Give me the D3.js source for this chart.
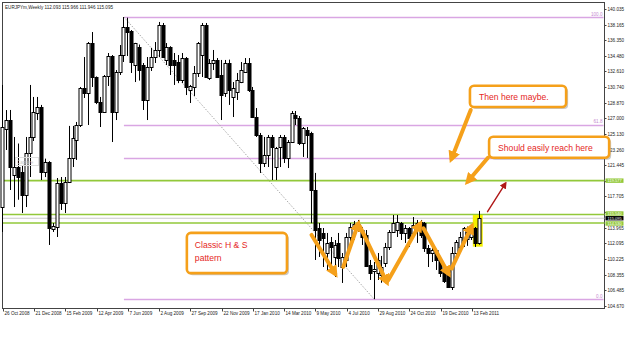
<!DOCTYPE html>
<html>
<head>
<meta charset="utf-8">
<script src="https://cdn.jsdelivr.net/npm/d3@7"></script>
<style>
	body { margin: 0; background: #fff; }
	svg { display: block; }
</style>
</head>
<body>
<svg id="chart" width="625" height="346"></svg>
<script>
// weekly EURJPY candles, first bar = week of 26 Oct 2008
const symbol = 'EURJPYm,Weekly';
const firstWeek = new Date(Date.UTC(2008, 9, 26));

const open = [116.5, 125.73, 126.8, 120.25, 121.2, 120.61, 117.87, 122.87, 124.78, 127.64,
	128.35, 120.61, 121.8, 113.81, 114.05, 119.29, 116.91, 119.41, 122.28, 124.42,
	126.21, 130.62, 130.02, 135.98, 131.93, 128.95, 127.76, 132.05, 134.43, 127.76,
	132.53, 134.55, 137.89, 137.41, 133.36, 135.5, 133.36, 129.19, 133.12, 134.31,
	135.15, 138.13, 133.96, 135.51, 133.96, 133.72, 131.57, 134.19, 130.38, 130.74,
	132.41, 134.5, 138.13, 131.81, 133.6, 133.96, 132.17, 130.02, 133.6, 129.55,
	130.14, 131.33, 132.53, 133.6, 130.38, 127.16, 125.02, 121.68, 122.63, 124.78,
	121.2, 123.59, 124.78, 122.28, 124.18, 127.4, 127.04, 124.06, 125.61, 125.26,
	118.46, 113.93, 113.34, 110.95, 112.27, 110.48, 112.15, 109.28, 110.12, 112.86,
	114.05, 114.41, 113.69, 113.1, 109.52, 108.81, 108.57, 108.3, 109.76, 111.67,
	113.46, 113.69, 114.53, 113.34, 113.93, 113.34, 113.93, 114.65, 114.53, 111.55,
	110.95, 111.31, 110.12, 108.69, 109.16, 106.9, 110.95, 111.67, 112.5, 112.6,
	112.86, 113.93, 112.093];
const high = [130.98, 127.99, 128.0, 124.78, 124.0, 121.44, 124.78, 130.98, 129.55, 129.55,
	128.6, 122.2, 121.9, 114.53, 119.89, 120.01, 120.01, 126.1, 126.1, 126.57,
	130.74, 134.31, 136.1, 137.29, 132.0, 129.55, 132.17, 134.79, 134.55, 132.76,
	135.74, 139.08, 139.0, 137.53, 136.0, 135.8, 133.6, 134.31, 135.4, 136.1,
	138.49, 138.37, 135.98, 135.6, 134.79, 134.55, 134.79, 134.31, 130.98, 133.24,
	136.1, 138.37, 138.37, 134.07, 135.15, 134.19, 133.96, 133.96, 134.0, 131.33,
	132.41, 133.72, 134.19, 134.19, 130.74, 128.23, 125.26, 124.78, 125.02, 125.02,
	123.59, 125.02, 125.02, 124.42, 127.88, 127.88, 127.28, 125.97, 125.97, 125.4,
	120.5, 114.53, 113.93, 113.34, 112.86, 112.5, 113.34, 110.95, 113.34, 114.53,
	114.77, 114.89, 114.05, 113.69, 110.12, 109.88, 110.95, 110.6, 112.15, 113.69,
	115.48, 115.48, 114.65, 114.29, 114.05, 115.24, 114.89, 114.89, 114.65, 111.91,
	111.67, 111.43, 110.24, 108.93, 109.28, 111.67, 112.5, 113.46, 114.05, 114.1,
	114.05, 114.05, 115.966];
const low = [113.46, 123.23, 118.46, 116.43, 117.3, 115.72, 116.43, 120.01, 124.3, 126.8,
	119.65, 120.0, 111.91, 113.46, 112.86, 116.08, 115.72, 119.29, 121.2, 122.04,
	125.97, 129.43, 126.21, 130.74, 128.7, 125.97, 127.64, 130.86, 124.18, 126.8,
	132.17, 133.72, 134.43, 132.41, 131.33, 131.5, 128.0, 126.8, 132.65, 133.6,
	134.31, 134.19, 133.36, 132.17, 130.98, 131.2, 131.2, 129.78, 128.83, 129.67,
	131.93, 131.93, 131.81, 131.57, 132.76, 131.81, 126.8, 129.55, 128.6, 127.16,
	129.19, 131.2, 132.41, 130.14, 127.04, 124.78, 120.49, 121.2, 121.2, 119.65,
	119.65, 121.2, 121.68, 121.08, 124.06, 126.21, 123.82, 122.4, 122.28, 114.5,
	110.12, 110.48, 109.28, 108.93, 108.57, 108.09, 109.28, 107.38, 109.28, 111.31,
	112.5, 113.46, 111.91, 109.28, 107.74, 105.45, 107.74, 107.4, 109.28, 111.31,
	113.34, 112.86, 112.5, 112.15, 111.67, 112.86, 112.15, 112.74, 111.08, 109.28,
	109.88, 108.93, 108.09, 107.38, 106.78, 106.54, 110.48, 110.95, 111.67, 111.8,
	112.5, 111.67, 111.946];
const close = [126.0, 126.8, 121.2, 121.2, 120.0, 117.87, 122.87, 124.78, 127.76, 128.35,
	120.61, 121.8, 113.93, 114.17, 119.29, 116.91, 119.41, 122.28, 124.66, 126.21,
	130.62, 130.02, 135.98, 131.93, 128.95, 127.76, 132.05, 134.43, 127.76, 132.53,
	134.55, 137.89, 137.29, 133.72, 135.98, 132.8, 129.19, 133.12, 134.31, 135.15,
	138.13, 134.31, 135.51, 133.36, 133.36, 131.57, 134.19, 130.74, 130.86, 132.41,
	135.98, 138.13, 131.93, 133.6, 133.96, 131.93, 129.78, 133.6, 130.38, 130.62,
	131.57, 132.76, 133.6, 130.38, 127.16, 125.02, 121.68, 122.63, 124.78, 123.59,
	123.47, 124.78, 122.28, 124.18, 127.64, 127.04, 124.06, 125.85, 125.02, 118.46,
	113.69, 112.5, 112.74, 112.15, 111.67, 111.91, 110.36, 110.48, 112.86, 114.05,
	114.41, 113.93, 112.86, 109.4, 108.57, 109.0, 110.12, 109.3, 111.67, 113.46,
	114.53, 114.65, 113.34, 113.93, 112.74, 114.29, 114.53, 113.1, 111.55, 110.95,
	111.31, 110.12, 108.57, 107.62, 106.9, 110.95, 112.27, 112.86, 113.93, 113.4,
	113.93, 112.09, 115.095];

// price scale labels, as printed on the right axis
const priceTicks = ['140.035', '138.165', '136.350', '134.480', '132.610', '130.740', '128.870', '127.000',
	'125.130', '123.260', '121.445', '119.575', '117.705', '115.835', '113.965', '112.095', '110.225',
	'108.355', '106.485', '104.670'];
const dateTicks = ['26 Oct 2008', '21 Dec 2008', '15 Feb 2009', '12 Apr 2009', '7 Jun 2009', '2 Aug 2009',
	'27 Sep 2009', '22 Nov 2009', '17 Jan 2010', '14 Mar 2010', '9 May 2010', '4 Jul 2010', '29 Aug 2010',
	'24 Oct 2010', '19 Dec 2010', '13 Feb 2011'];

// horizontal lines drawn on the chart
const greenLevels = [119.575, 115.54, 114.53];
const greenLabels = ['119.577', '115.540', '114.530'];
const fibRatios = [0, 0.5, 0.618, 1];
const fibLabels = ['0.0', '', '61.8', '100.0'];
const fibHighBar = 31;
const fibLowBar = 95;

// hand drawn annotations, in (bar index, price)
const zigzag = [
	[[79.0, 113.1], [85.0, 108.5]],
	[[87.1, 109.3], [90.9, 114.4]],
	[[91.4, 114.1], [98.2, 107.5]],
	[[98.6, 107.7], [106.7, 114.4]],
	[[107.6, 113.9], [114.0, 108.5]],
	[[114.8, 109.1], [119.9, 114.1]]
];
const notes = [
	{ lines: ['Classic H & S', 'pattern'], box: [47.1, 113.35, 72.7, 108.55], arrow: null },
	{ lines: ['Then here maybe.'], box: [119.5, 130.88, 144.1, 128.35], arrow: [[119.7, 128.0], [114.8, 122.2]] },
	{ lines: ['Should easily reach here'], box: [124.4, 124.8, 155.1, 122.3], arrow: [[124.1, 122.3], [119.0, 119.5]] }
];
const redArrow = [[124.0, 115.87], [128.5, 119.18]];

const [plotLeft, plotTop, plotRight, plotBottom] = [2.5, 2.5, 604.5, 308.5];
const font = 'Liberation Sans, Arial, sans-serif';
const orange = '#f5a01a';
const green = '#92c83a';

const svg = d3.select('#chart');
const x = d3.scaleLinear([0, 120], [2.7, 471.9]);
const y = d3.scaleLinear([104.670, 140.035], [305.7, 9]);
const weekOf = d => d3.utcWeek.count(firstWeek, d);
const bars = d3.range(open.length);
const last = open.length - 1;
const bid = close[last];
// wick sits on the middle of a pixel column
const px = i => Math.floor(x(i)) + 0.5;

const defs = svg.append('defs');
const marker = (id, color, size) =>
	defs
		.append('marker')
		.attr('id', id)
		.attr('viewBox', '0 0 10 10')
		.attr('refX', 6)
		.attr('refY', 5)
		.attr('markerWidth', size)
		.attr('markerHeight', size)
		.attr('markerUnits', 'userSpaceOnUse')
		.attr('orient', 'auto')
		.append('path')
		.attr('d', 'M0,0 L10,5 L0,10 z')
		.attr('fill', color);
marker('headOrange', orange, 12);
marker('headRed', '#b01818', 7);

// frame
svg.append('rect')
	.attr('x', plotLeft).attr('y', plotTop)
	.attr('width', plotRight - plotLeft).attr('height', plotBottom - plotTop)
	.attr('fill', 'none').attr('stroke', '#444');

// fibonacci levels from the high bar to the low bar
const fibHigh = high[fibHighBar];
const fibLow = low[fibLowBar];
const fibG = svg.append('g');
fibRatios.forEach((r, k) => {
	const p = fibLow + r * (fibHigh - fibLow);
	fibG.append('line')
		.attr('x1', x(fibHighBar)).attr('x2', plotRight - 1)
		.attr('y1', Math.round(y(p)) + 0.5).attr('y2', Math.round(y(p)) + 0.5)
		.attr('stroke', '#d9a6e3').attr('stroke-width', 1.5);
	fibG.append('text')
		.attr('x', plotRight - 2).attr('y', y(p) - 1.5)
		.attr('text-anchor', 'end')
		.attr('font-family', font).attr('font-size', 4.6)
		.attr('fill', '#c58ad0')
		.text(fibLabels[k]);
});
svg.append('line')
	.attr('x1', x(fibHighBar)).attr('y1', y(fibHigh))
	.attr('x2', x(fibLowBar)).attr('y2', y(fibLow))
	.attr('stroke', '#aaa').attr('stroke-dasharray', '1.5,1.5');

// green support / resistance lines and the bid line
greenLevels.forEach(p => {
	svg.append('line')
		.attr('x1', plotLeft).attr('x2', plotRight)
		.attr('y1', y(p)).attr('y2', y(p))
		.attr('stroke', green).attr('stroke-width', 1.6);
});
svg.append('line')
	.attr('x1', plotLeft).attr('x2', plotRight)
	.attr('y1', y(bid)).attr('y2', y(bid))
	.attr('stroke', '#c8c8c8');

// yellow highlight on the last two bars
svg.append('rect')
	.attr('x', x(last - 1) - 3).attr('y', y(high[last]) + 4)
	.attr('width', x(last) - x(last - 1) + 6).attr('height', y(low[last]) - y(high[last]) - 2)
	.attr('fill', '#f4f000');

// candles: black bodies for down weeks, hollow for up weeks
const candles = svg.append('g');
candles.selectAll('line')
	.data(bars)
	.join('line')
	.attr('x1', px).attr('x2', px)
	.attr('y1', i => y(high[i])).attr('y2', i => y(low[i]))
	.attr('stroke', '#000');
candles.selectAll('rect')
	.data(bars)
	.join('rect')
	.attr('x', i => px(i) - 1.5)
	.attr('y', i => Math.round(y(Math.max(open[i], close[i]))) + 0.5)
	.attr('width', 3)
	.attr('height', i => Math.max(1, Math.round(Math.abs(y(open[i]) - y(close[i])))))
	.attr('fill', i => (close[i] >= open[i] ? '#fff' : '#000'))
	.attr('stroke', '#000');

// ghost label left by the screenshot tool
svg.append('rect').attr('x', 15.5).attr('y', 157.5).attr('width', 23).attr('height', 8)
	.attr('fill', 'none').attr('stroke', '#ddd');
svg.append('text').attr('x', 17).attr('y', 163.5)
	.attr('font-family', font).attr('font-size', 4.6).attr('fill', '#ccc').text('Capture');

// right price axis (ticks hidden under the line labels are skipped, as on screen)
const lineLabels = [
	{ p: greenLevels[0], dy: 0, text: greenLabels[0], bg: green, fg: '#fff' },
	{ p: greenLevels[1], dy: -1, text: greenLabels[1], bg: green, fg: '#fff' },
	{ p: bid, dy: 0, text: bid.toFixed(3), bg: '#000', fg: '#fff' },
	{ p: greenLevels[2], dy: 0.5, text: greenLabels[2], bg: green, fg: '#fff' }
];
const axisG = svg.append('g').attr('font-family', font).attr('font-size', 4.6);
priceTicks.forEach(t => {
	const ty = Math.round(y(+t)) + 0.5;
	axisG.append('line').attr('x1', plotRight).attr('x2', plotRight + 2).attr('y1', ty).attr('y2', ty).attr('stroke', '#444');
	if (lineLabels.some(l => Math.abs(y(l.p) - ty) < 5)) return;
	axisG.append('text').attr('x', plotRight + 3).attr('y', ty + 1.6).attr('fill', '#222').text(t);
});
lineLabels.forEach(l => {
	const ly = y(l.p) + l.dy;
	axisG.append('rect').attr('x', plotRight + 1).attr('y', ly - 2.2).attr('width', 18).attr('height', 4.4).attr('fill', l.bg);
	axisG.append('text').attr('x', plotRight + 3).attr('y', ly + 1.4)
		.attr('font-size', 4).attr('fill', l.fg).text(l.text);
});

// bottom date axis
const parseDay = d3.utcParse('%d %b %Y');
dateTicks.forEach(t => {
	const tx = Math.round(x(weekOf(parseDay(t)))) + 0.5;
	axisG.append('line').attr('x1', tx).attr('x2', tx).attr('y1', plotBottom).attr('y2', plotBottom + 3).attr('stroke', '#444');
	axisG.append('text').attr('x', tx + 1).attr('y', plotBottom + 6).attr('fill', '#222').text(t);
});

// title with the last bar OHLC
svg.append('text')
	.attr('x', 5).attr('y', 8.5)
	.attr('font-family', font).attr('font-size', 4.6).attr('fill', '#222')
	.text(`${symbol}  ${[open[last], high[last], low[last], close[last]].map(v => v.toFixed(3)).join(' ')}`);

// orange zigzag over the head & shoulders
const arrowLine = (g, pts, color, w, head) =>
	g.append('line')
		.attr('x1', x(pts[0][0])).attr('y1', y(pts[0][1]))
		.attr('x2', x(pts[1][0])).attr('y2', y(pts[1][1]))
		.attr('stroke', color).attr('stroke-width', w)
		.attr('stroke-linecap', 'round')
		.attr('marker-end', `url(#${head})`);
const annG = svg.append('g');
zigzag.forEach(seg => arrowLine(annG, seg, orange, 4, 'headOrange'));
arrowLine(annG, redArrow, '#b01818', 1.4, 'headRed');

// callout boxes
notes.forEach(n => {
	const [i0, p0, i1, p1] = n.box;
	const [bx, by, bw, bh] = [x(i0), y(p0), x(i1) - x(i0), y(p1) - y(p0)];
	if (n.arrow) arrowLine(annG, n.arrow, orange, 4, 'headOrange');
	annG.append('rect').attr('x', bx + 2).attr('y', by + 2).attr('width', bw).attr('height', bh)
		.attr('rx', 4).attr('fill', '#888').attr('opacity', 0.45);
	annG.append('rect').attr('x', bx).attr('y', by).attr('width', bw).attr('height', bh)
		.attr('rx', 4).attr('fill', '#fff').attr('stroke', orange).attr('stroke-width', 2.6);
	n.lines.forEach((l, k) => {
		annG.append('text')
			.attr('x', bx + (n.lines.length > 1 ? 8 : 9)).attr('y', by + 15 + k * 13.5 - (n.lines.length > 1 ? 0 : 1))
			.attr('font-family', font).attr('font-size', 8.6).attr('fill', '#e5261d')
			.text(l);
	});
});
</script>
</body>
</html>
